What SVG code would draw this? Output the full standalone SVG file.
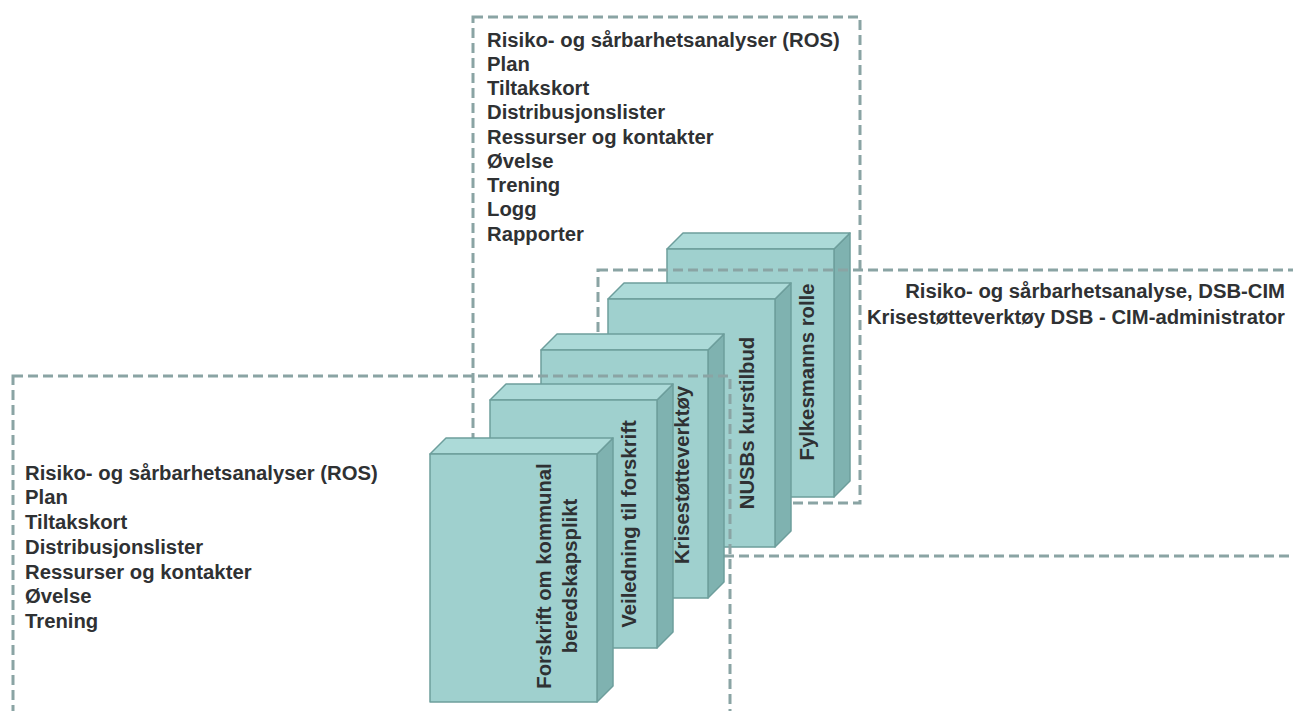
<svg xmlns="http://www.w3.org/2000/svg" xmlns:xlink="http://www.w3.org/1999/xlink" width="1293" height="711" viewBox="0 0 1293 711">
  <style>
    .zone { fill: none; stroke: #8aa4a4; stroke-width: 3; stroke-dasharray: 10 5; }
    .lbl { font-family: "Liberation Sans", Arial, sans-serif; font-weight: bold; font-size: 20.3px; fill: #2f3133; }
    .vlbl { font-family: "Liberation Sans", Arial, sans-serif; font-weight: bold; font-size: 20.3px; fill: #2f3133; text-anchor: middle; }
    .front { fill: #9fd0ce; stroke: #6d9e9c; stroke-width: 1.5; stroke-linejoin: round; }
    .top { fill: #acdad8; stroke: #6d9e9c; stroke-width: 1.5; stroke-linejoin: round; }
    .side { fill: #7fb2b0; stroke: #6d9e9c; stroke-width: 1.5; stroke-linejoin: round; }
  </style>
  <defs>
    <!-- cube: front face 167 x 248 with a 16 px depth to the upper right -->
    <g id="cube">
      <polygon class="side" points="167,0 183,-16 183,232 167,248"/>
      <polygon class="top" points="0,0 16,-16 183,-16 167,0"/>
      <rect class="front" x="0" y="0" width="167" height="248"/>
    </g>
  </defs>

  <rect width="1293" height="711" fill="#ffffff"/>

  <!-- upper zone with its list -->
  <g id="zone-top">
    <rect class="zone" x="473" y="17" width="387" height="486"/>
    <text class="lbl" x="487" y="46.5">Risiko- og sårbarhetsanalyser (ROS)</text>
    <text class="lbl" x="487" y="70.7">Plan</text>
    <text class="lbl" x="487" y="95">Tiltakskort</text>
    <text class="lbl" x="487" y="119.2">Distribusjonslister</text>
    <text class="lbl" x="487" y="143.5">Ressurser og kontakter</text>
    <text class="lbl" x="487" y="167.7">Øvelse</text>
    <text class="lbl" x="487" y="192">Trening</text>
    <text class="lbl" x="487" y="216.2">Logg</text>
    <text class="lbl" x="487" y="240.5">Rapporter</text>
  </g>

  <g id="block-fylkesmann">
    <use xlink:href="#cube" href="#cube" x="667" y="249"/>
    <text class="vlbl" transform="translate(814 372) rotate(-90)">Fylkesmanns rolle</text>
  </g>

  <!-- right zone with its list -->
  <g id="zone-right">
    <rect class="zone" x="598" y="270" width="720" height="286"/>
    <text class="lbl" x="1285" y="298.3" text-anchor="end">Risiko- og sårbarhetsanalyse, DSB-CIM</text>
    <text class="lbl" x="1285" y="324" text-anchor="end">Krisestøtteverktøy DSB - CIM-administrator</text>
  </g>

  <g id="block-nusb">
    <use xlink:href="#cube" href="#cube" x="608" y="299"/>
    <text class="vlbl" transform="translate(754 423) rotate(-90)">NUSBs kurstilbud</text>
  </g>

  <g id="block-krisestotte">
    <use xlink:href="#cube" href="#cube" x="541" y="350"/>
    <text class="vlbl" transform="translate(689 475) rotate(-90)">Krisestøtteverktøy</text>
  </g>

  <g id="block-veiledning">
    <use xlink:href="#cube" href="#cube" x="490" y="400"/>
    <text class="vlbl" transform="translate(636 524) rotate(-90)">Veiledning til forskrift</text>
  </g>

  <g id="block-forskrift">
    <use xlink:href="#cube" href="#cube" x="430" y="454"/>
    <text class="vlbl" transform="translate(551 576) rotate(-90)">Forskrift om kommunal</text>
    <text class="vlbl" transform="translate(577 576) rotate(-90)">beredskapsplikt</text>
  </g>

  <!-- lower-left zone with its list -->
  <g id="zone-left">
    <rect class="zone" x="13" y="376" width="717" height="360"/>
    <text class="lbl" x="25" y="479.5">Risiko- og sårbarhetsanalyser (ROS)</text>
    <text class="lbl" x="25" y="504.3">Plan</text>
    <text class="lbl" x="25" y="529">Tiltakskort</text>
    <text class="lbl" x="25" y="553.8">Distribusjonslister</text>
    <text class="lbl" x="25" y="578.5">Ressurser og kontakter</text>
    <text class="lbl" x="25" y="603.2">Øvelse</text>
    <text class="lbl" x="25" y="628">Trening</text>
  </g>
</svg>
